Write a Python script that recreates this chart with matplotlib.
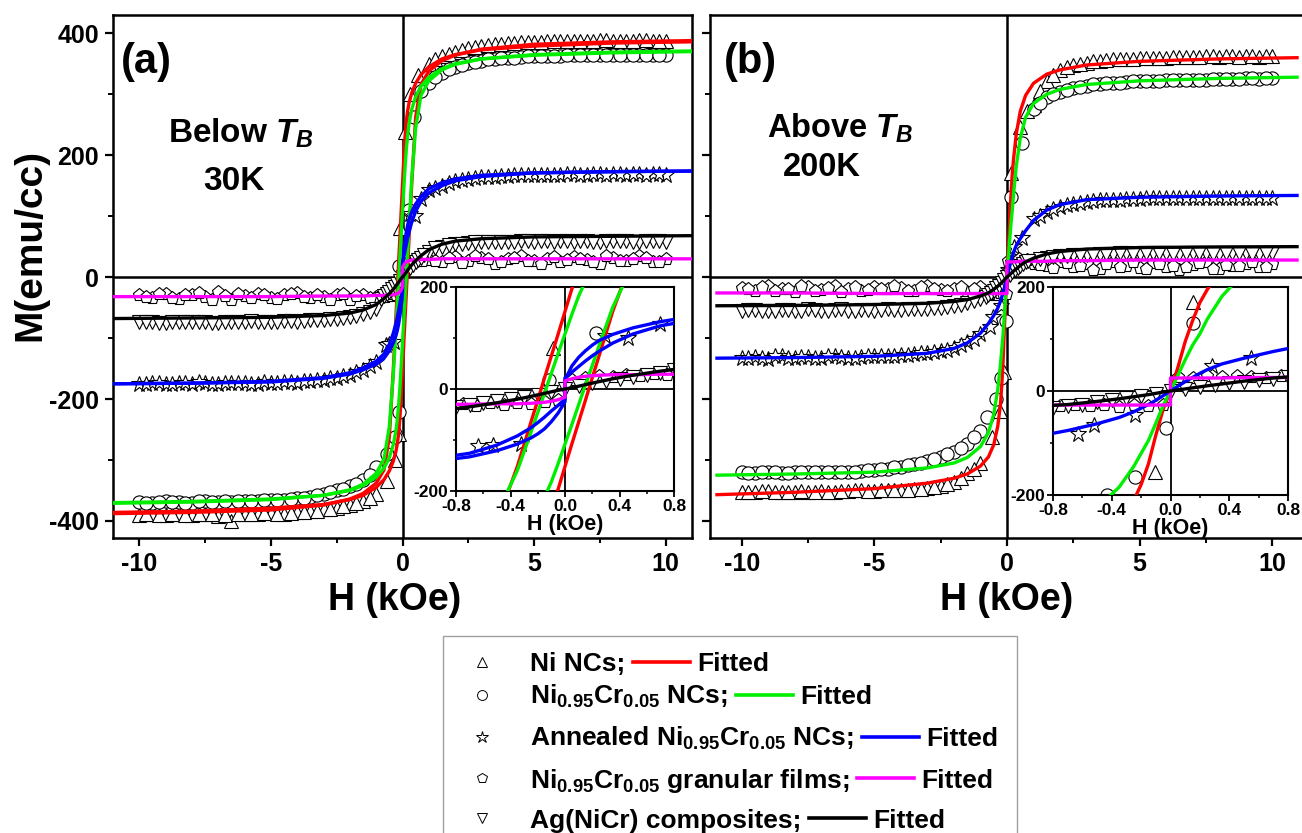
import matplotlib
matplotlib.use("Agg")
import matplotlib.pyplot as plt
from matplotlib.lines import Line2D
from matplotlib.patches import Rectangle
from matplotlib.ticker import MultipleLocator, FormatStrFormatter

plt.rcParams["font.family"] = "Liberation Sans"
plt.rcParams["font.weight"] = "bold"
plt.rcParams["axes.labelweight"] = "bold"
plt.rcParams["axes.unicode_minus"] = False
plt.rcParams["mathtext.fontset"] = "custom"
plt.rcParams["mathtext.rm"] = "Liberation Sans:bold"
plt.rcParams["mathtext.it"] = "Liberation Sans:italic:bold"
plt.rcParams["mathtext.bf"] = "Liberation Sans:bold"

RED, GREEN, BLUE, MAGENTA, BLACK = "#FF0000", "#00EE00", "#0000FF", "#FF00FF", "#000000"

# ── measured points ───────────────────────────────────────────────────────────
# descending sweep outside +-1 kOe
H_OUT = [-10, -9.5, -9, -8.5, -8, -7.5, -7, -6.5, -6, -5.5, -5, -4.5, -4, -3.5, -3, -2.5, -2, -1.5, -1,
         1, 1.5, 2, 2.5, 3, 3.5, 4, 4.5, 5, 5.5, 6, 6.5, 7, 7.5, 8, 8.5, 9, 9.5, 10]
# return sweep outside +-1 kOe
H_RET = [-9.75, -9.25, -8.75, -8.25, -7.75, -7.25, -6.75, -6.25, -5.75, -5.25, -4.75, -4.25, -3.75,
         -3.25, -2.75, -2.25, -1.75, -1.25, 1.25, 1.75, 2.25, 2.75, 3.25, 3.75, 4.25, 4.75, 5.25,
         5.75, 6.25, 6.75, 7.25, 7.75, 8.25, 8.75, 9.25, 9.75]
# low-field points
H_FINE = [-0.8, -0.7, -0.6, -0.5, -0.4, -0.3, -0.2, -0.1, 0, 0.1, 0.2, 0.3, 0.4, 0.5, 0.6, 0.7, 0.8]
H_FINE_P = [-0.75, -0.65, -0.55, -0.45, -0.35, -0.25, -0.15, -0.05, 0.05, 0.15, 0.25, 0.35, 0.45, 0.55, 0.65, 0.75]

# panel (a), 30 K
A_TRI = [-390, -389, -391, -388, -390, -389, -392, -400, -389, -388, -387, -388, -386, -384, -381, -378, -374, -368, -355,
         350, 362, 370, 376, 379, 382, 384, 385, 386, 387, 388, 388, 387, 389, 388, 387, 389, 388, 388]
A_CIR = [-369, -370, -368, -369, -370, -368, -369, -369, -368, -367, -366, -365, -363, -360, -356, -350, -343, -333, -312,
         318, 335, 345, 351, 355, 358, 360, 361, 362, 363, 363, 364, 364, 365, 364, 365, 365, 364, 365]
A_STAR = [-176, -174, -175, -173, -175, -174, -176, -173, -174, -175, -173, -172, -173, -171, -168, -165, -160, -152, -140,
          143, 150, 157, 161, 164, 165, 166, 167, 167, 168, 168, 169, 168, 169, 169, 168, 169, 169, 168]
A_PENT = [-30, -34, -27, -36, -29, -33, -25, -38, -31, -28, -35, -30, -26, -34, -32, -29, -37, -30, -33,
          28, 24, 33, 27, 31, 22, 29, 35, 26, 30, 24, 33, 28, 21, 31, 27, 34, 25, 29]
A_DTRI = [-74, -73, -75, -74, -73, -74, -75, -73, -74, -73, -74, -72, -73, -71, -70, -68, -65, -61, -53,
          42, 50, 54, 56, 57, 58, 58, 59, 58, 59, 59, 58, 59, 58, 59, 59, 58, 59, 58]
A_TRI_R = [-389, -390, -388, -391, -389, -388, -390, -389, -388, -387, -389, -387, -385, -383, -380, -376, -371, -362,
           357, 366, 373, 377, 381, 383, 384, 386, 386, 387, 388, 387, 388, 389, 388, 388, 389, 388]
A_CIR_R = [-370, -369, -369, -370, -368, -369, -368, -368, -367, -366, -366, -364, -362, -358, -353, -347, -339, -324,
           328, 341, 348, 353, 357, 359, 360, 362, 362, 363, 364, 364, 364, 365, 365, 364, 365, 365]
A_STAR_R = [-175, -173, -176, -174, -172, -175, -174, -173, -175, -172, -174, -172, -171, -169, -166, -162, -156, -146,
            147, 154, 159, 163, 165, 166, 167, 167, 168, 168, 169, 168, 169, 168, 169, 169, 168, 169]
A_PENT_R = [-32, -27, -35, -30, -26, -37, -31, -28, -34, -29, -36, -27, -33, -30, -38, -28, -31, -35,
            26, 31, 23, 34, 29, 25, 32, 27, 22, 33, 28, 30, 25, 35, 26, 29, 32, 24]
A_DTRI_R = [-73, -75, -74, -73, -74, -75, -73, -74, -72, -74, -73, -72, -72, -70, -69, -67, -63, -57,
            47, 52, 55, 57, 58, 58, 58, 59, 59, 58, 59, 59, 58, 59, 59, 58, 59, 59]
A_TRI_IN_H = [-0.6, -0.3, -0.15, -0.09, 0.1, 0.3, 0.6]
A_TRI_IN_M = [-335, -300, -258, 80, 238, 300, 332]
A_CIR_IN_H = [-0.57, -0.3, -0.15, -0.12, 0.23, 0.45, 0.7]
A_CIR_IN_M = [-290, -262, -222, 18, 110, 262, 305]
A_STAR_IN_H = [-0.64, -0.53, -0.32, 0.29, 0.46, 0.7]
A_STAR_IN_M = [-112, -110, -107, 103, 100, 128]
A_PENT_IN_M = [-30, -33, -28, -31, -27, -29, -25, -22, 17, 21, 25, 24, 28, 26, 29, 27]
A_DTRI_IN_M = [-36, -31, -28, -24, -20, -16, -11, -6, 0, 6, 11, 15, 20, 24, 28, 32, 37]

# panel (b), 200 K
B_TRI = [-352, -353, -351, -352, -353, -352, -351, -352, -351, -350, -351, -350, -349, -348, -346, -342, -336, -322, -305,
         283, 322, 340, 348, 352, 355, 357, 358, 359, 360, 360, 361, 361, 362, 361, 362, 362, 361, 362]
B_CIR = [-320, -321, -320, -321, -320, -320, -319, -320, -319, -318, -316, -314, -311, -307, -302, -295, -287, -273, -252,
         275, 295, 304, 310, 314, 317, 318, 320, 321, 322, 323, 323, 324, 324, 325, 325, 326, 325, 326]
B_STAR = [-133, -131, -134, -130, -132, -131, -133, -130, -132, -131, -130, -129, -128, -126, -124, -121, -116, -107, -93,
          95, 107, 115, 120, 124, 126, 127, 128, 128, 129, 129, 130, 129, 130, 130, 129, 130, 130, 129]
B_PENT = [-18, -22, -15, -20, -24, -17, -21, -14, -19, -23, -16, -20, -18, -22, -15, -21, -19, -24, -17,
          22, 18, 25, 16, 21, 13, 24, 19, 15, 23, 17, 12, 20, 24, 14, 19, 22, 16, 21]
B_DTRI = [-55, -54, -56, -54, -55, -53, -55, -54, -56, -54, -55, -53, -54, -53, -52, -50, -47, -43, -36,
          26, 31, 34, 36, 37, 38, 38, 39, 38, 39, 39, 38, 39, 39, 38, 39, 39, 38, 39]
B_TRI_R = [-352, -351, -353, -352, -351, -352, -353, -351, -350, -351, -350, -349, -349, -347, -344, -339, -330, -314,
           305, 332, 344, 350, 354, 356, 358, 358, 359, 360, 361, 361, 361, 362, 362, 361, 362, 362]
B_CIR_R = [-321, -320, -320, -321, -319, -320, -320, -319, -319, -317, -315, -312, -309, -305, -299, -291, -280, -263,
           286, 300, 307, 312, 316, 318, 319, 321, 321, 322, 323, 324, 324, 325, 325, 325, 326, 326]
B_STAR_R = [-132, -133, -130, -132, -131, -133, -130, -131, -132, -130, -130, -129, -127, -125, -123, -119, -112, -101,
            101, 111, 118, 122, 125, 127, 127, 128, 129, 129, 129, 130, 130, 129, 130, 130, 129, 130]
B_PENT_R = [-20, -16, -23, -19, -14, -22, -18, -25, -16, -21, -19, -14, -23, -17, -20, -22, -16, -19,
            20, 15, 23, 18, 12, 22, 17, 25, 14, 21, 19, 16, 23, 13, 20, 18, 24, 17]
B_DTRI_R = [-54, -55, -55, -54, -56, -54, -55, -53, -55, -54, -54, -54, -53, -52, -51, -49, -45, -40,
            29, 33, 35, 37, 37, 38, 39, 38, 39, 39, 38, 39, 39, 38, 39, 39, 38, 39]
B_TRI_IN_H = [-0.55, -0.25, -0.107, 0.155, 0.5, 0.75]
B_TRI_IN_M = [-262, -220, -155, 171, 246, 272]
B_CIR_IN_H = [-0.75, -0.43, -0.24, -0.034, 0.155, 0.57]
B_CIR_IN_M = [-229, -200, -165, -72, 131, 220]
B_STAR_IN_H = [-0.63, -0.52, -0.24, 0.05, 0.28, 0.55]
B_STAR_IN_M = [-82, -66, -47, 12, 49, 64]
B_PENT_IN_M = [-28, -26, -29, -27, -30, -26, -28, -27, 27, 25, 28, 26, 29, 27, 25, 28]
B_DTRI_IN_M = [-33, -29, -26, -22, -18, -14, -10, -5, 0, 4, 8, 11, 15, 18, 21, 24, 27]

# ── fitted curves ─────────────────────────────────────────────────────────────
FIT_H = [-11, -8, -5, -3, -2, -1.5, -1, -0.7, -0.5, -0.35, -0.25, -0.2, -0.15, -0.1, -0.05, 0,
         0.05, 0.1, 0.15, 0.2, 0.25, 0.35, 0.5, 0.7, 1, 1.5, 2, 3, 5, 8, 11]
FIT_HJ = [-11, -8, -5, -3, -2, -1.5, -1, -0.7, -0.5, -0.35, -0.25, -0.2, -0.15, -0.1, -0.05, 0, 0,
          0.05, 0.1, 0.15, 0.2, 0.25, 0.35, 0.5, 0.7, 1, 1.5, 2, 3, 5, 8, 11]

A_RED_DESC = [-388, -386, -382, -374, -364, -355, -338, -316, -262, -152, -65, -22, 22, 65, 108, 152,
              196, 232, 258, 274, 286, 302, 318, 332, 345, 358, 365, 373, 379, 384, 386]
A_RED_ASC = [-386, -384, -379, -373, -365, -358, -345, -332, -318, -302, -286, -274, -258, -232, -196, -152,
             -108, -65, -22, 22, 65, 152, 262, 316, 338, 355, 364, 374, 382, 386, 388]
A_GRN_DESC = [-371, -369, -365, -358, -349, -340, -322, -298, -245, -160, -85, -46, -8, 31, 70, 108,
              146, 182, 212, 235, 252, 275, 296, 313, 328, 342, 350, 358, 364, 368, 370]
A_GRN_ASC = [-370, -368, -364, -358, -350, -342, -328, -313, -296, -275, -252, -235, -212, -182, -146, -108,
             -70, -31, 8, 46, 85, 160, 245, 298, 322, 340, 349, 358, 365, 369, 371]
A_BLU_1 = [-175, -174, -172, -166, -159, -152, -143, -133, -121, -108, -96, -88, -78, -64, -47, -25, 18,
           45, 62, 75, 86, 95, 107, 120, 132, 145, 155, 161, 167, 171, 173, 174]
A_BLU_2 = [-175, -174, -171, -165, -157, -149, -138, -126, -110, -92, -76, -66, -55, -43, -32, -20, 22,
           33, 44, 55, 65, 74, 90, 108, 124, 138, 150, 158, 165, 171, 173, 174]
A_MAG = [-32, -32, -32, -31, -31, -31, -30, -30, -29, -29, -28, -27, -26, -24, -21, -16, 16,
         20, 23, 25, 26, 27, 28, 28, 29, 29, 30, 30, 30, 30, 30, 30]
A_BLK = [-68, -67, -66, -63, -59, -54, -45, -35, -27, -20, -14.5, -11.5, -8.5, -5.5, -2.5, 0,
         2.5, 5.5, 8.5, 11.5, 14.5, 20, 27, 35, 45, 54, 59, 63, 66, 67, 68]

B_RED = [-357, -353, -347, -338, -330, -323, -310, -295, -275, -245, -210, -180, -140, -85, -35, 0,
         45, 95, 135, 170, 195, 235, 272, 298, 318, 333, 340, 348, 354, 358, 360]
B_GRN = [-325, -323, -320, -313, -305, -296, -278, -255, -225, -185, -145, -120, -95, -62, -28, 0,
         30, 60, 88, 110, 138, 182, 228, 262, 285, 300, 308, 316, 322, 326, 328]
B_BLU = [-133, -132, -130, -125, -117, -108, -92, -76, -63, -51, -40, -33, -26, -18, -9, 0,
         9, 18, 26, 34, 41, 52, 63, 76, 93, 110, 119, 127, 131, 133, 134]
B_BLK = [-47, -46.5, -45, -43, -40, -37, -31, -26, -20, -15, -11, -9, -7, -4.5, -2, 0,
         2, 4, 6, 8, 10, 13.5, 19, 25, 31, 38, 42, 46, 48.5, 49.5, 50]
B_MAG = [-26, -26, -27, -27, -27, -27, -27, -27, -27, -27, -27, -27, -27, -27, -27, -27, 25,
         25, 25, 25, 25, 25, 25, 26, 26, 26, 26, 27, 27, 28, 28, 28]

LEG_LABELS = ["Ni NCs;", r"Ni$_{0.95}$Cr$_{0.05}$ NCs;", r"Annealed Ni$_{0.95}$Cr$_{0.05}$ NCs;",
              r"Ni$_{0.95}$Cr$_{0.05}$ granular films;", "Ag(NiCr) composites;"]
MARKERS = ["^", "o", "*", "p", "v"]
COLORS = [RED, GREEN, BLUE, MAGENTA, BLACK]
MS = {"^": 9.5, "o": 9.5, "*": 12, "p": 9.5, "v": 9.5}

A_POINTS = [(H_OUT + H_RET + A_TRI_IN_H, A_TRI + A_TRI_R + A_TRI_IN_M),
            (H_OUT + H_RET + A_CIR_IN_H, A_CIR + A_CIR_R + A_CIR_IN_M),
            (H_OUT + H_RET + A_STAR_IN_H, A_STAR + A_STAR_R + A_STAR_IN_M),
            (H_OUT + H_RET + H_FINE_P, A_PENT + A_PENT_R + A_PENT_IN_M),
            (H_OUT + H_RET + H_FINE, A_DTRI + A_DTRI_R + A_DTRI_IN_M)]
B_POINTS = [(H_OUT + H_RET + B_TRI_IN_H, B_TRI + B_TRI_R + B_TRI_IN_M),
            (H_OUT + H_RET + B_CIR_IN_H, B_CIR + B_CIR_R + B_CIR_IN_M),
            (H_OUT + H_RET + B_STAR_IN_H, B_STAR + B_STAR_R + B_STAR_IN_M),
            (H_OUT + H_RET + H_FINE_P, B_PENT + B_PENT_R + B_PENT_IN_M),
            (H_OUT + H_RET + H_FINE, B_DTRI + B_DTRI_R + B_DTRI_IN_M)]
A_FITS = [(FIT_H, A_RED_DESC, RED), (FIT_H, A_RED_ASC, RED),
          (FIT_H, A_GRN_DESC, GREEN), (FIT_H, A_GRN_ASC, GREEN),
          (FIT_HJ, A_BLU_1, BLUE), (FIT_HJ, A_BLU_2, BLUE),
          (FIT_HJ, A_MAG, MAGENTA), (FIT_H, A_BLK, BLACK)]
B_FITS = [(FIT_H, B_RED, RED), (FIT_H, B_GRN, GREEN), (FIT_H, B_BLU, BLUE),
          (FIT_HJ, B_MAG, MAGENTA), (FIT_H, B_BLK, BLACK)]

W, H = 1302, 833


def fx(x):
    return x / W


def fy(y):
    return 1 - y / H


def axes_px(fig, left, top, right, bottom):
    return fig.add_axes([fx(left), fy(bottom), (right - left) / W, (bottom - top) / H])


def draw_data(ax, points, fits):
    for (hh, mm), mk in zip(points, MARKERS):
        ax.plot(hh, mm, ls="none", marker=mk, ms=MS[mk], mfc="white", mec="black", mew=0.8, zorder=2)
    for hh, mm, c in fits:
        ax.plot(hh, mm, color=c, lw=2.4, zorder=3, solid_capstyle="butt")


def style_main(ax, xlim, show_y):
    ax.set_xlim(*xlim)
    ax.set_ylim(-428, 430)
    ax.axhline(0, color="k", lw=1.8, zorder=1)
    ax.axvline(0, color="k", lw=1.8, zorder=1)
    ax.xaxis.set_major_locator(MultipleLocator(5))
    ax.xaxis.set_minor_locator(MultipleLocator(2.5))
    ax.yaxis.set_major_locator(MultipleLocator(200))
    ax.yaxis.set_minor_locator(MultipleLocator(100))
    ax.tick_params(which="major", direction="out", length=6, width=1.6, labelsize=18, pad=4,
                   labelleft=show_y)
    ax.tick_params(which="minor", direction="out", length=3.5, width=1.4)
    for s in ax.spines.values():
        s.set_linewidth(1.8)


def style_inset(ax):
    ax.set_xlim(-0.8, 0.8)
    ax.set_ylim(-200, 200)
    ax.set_facecolor("white")
    ax.axhline(0, color="k", lw=1.3, zorder=1)
    ax.axvline(0, color="k", lw=1.3, zorder=1)
    ax.xaxis.set_major_locator(MultipleLocator(0.4))
    ax.xaxis.set_minor_locator(MultipleLocator(0.2))
    ax.yaxis.set_major_locator(MultipleLocator(200))
    ax.yaxis.set_minor_locator(MultipleLocator(100))
    ax.xaxis.set_major_formatter(FormatStrFormatter("%.1f"))
    ax.tick_params(which="major", direction="out", length=4, width=1.3, labelsize=12.5, pad=1.5)
    ax.tick_params(which="minor", direction="out", length=2.5, width=1.1)
    ax.set_xlabel("H (kOe)", fontsize=15.5, fontweight="bold", labelpad=0)
    for s in ax.spines.values():
        s.set_linewidth(1.5)


fig = plt.figure(figsize=(W / 100, H / 100), dpi=100)
fig.patch.set_facecolor("white")

ax_a = axes_px(fig, 113, 15, 692, 538)
draw_data(ax_a, A_POINTS, A_FITS)
style_main(ax_a, (-11, 11), True)

ax_b = axes_px(fig, 710, 15, 1304, 538)
draw_data(ax_b, B_POINTS, B_FITS)
style_main(ax_b, (-11.2, 11.2), False)

in_a = axes_px(fig, 456, 287, 674, 491)
draw_data(in_a, A_POINTS, A_FITS)
style_inset(in_a)

in_b = axes_px(fig, 1053, 287, 1288, 495)
draw_data(in_b, B_POINTS, B_FITS)
style_inset(in_b)

# ── annotations ───────────────────────────────────────────────────────────────
fig.text(fx(121), fy(62), "(a)", fontsize=30, ha="left", va="center")
fig.text(fx(241), fy(133), r"Below $T_B$", fontsize=24, ha="center", va="center")
fig.text(fx(234), fy(181), "30K", fontsize=24, ha="center", va="center")
fig.text(fx(724), fy(62), "(b)", fontsize=30, ha="left", va="center")
fig.text(fx(840), fy(128), r"Above $T_B$", fontsize=23.5, ha="center", va="center")
fig.text(fx(822), fy(168), "200K", fontsize=23.5, ha="center", va="center")

fig.text(fx(30), fy(245), "M(emu/cc)", fontsize=28, rotation=90, ha="center", va="center")
fig.text(fx(395), fy(600), "H (kOe)", fontsize=27, ha="center", va="center")
fig.text(fx(1007), fy(600), "H (kOe)", fontsize=27, ha="center", va="center")

# ── hand-built legend ─────────────────────────────────────────────────────────
fig.add_artist(Rectangle((fx(443), fy(850)), (1017 - 443) / W, (850 - 636) / H,
                         transform=fig.transFigure, fill=False, ec="#A0A0A0", lw=1.0))
row_base = [671, 704, 746, 788, 828]
row_line = [662, 695, 737, 778, 818]
renderer = fig.canvas.get_renderer()
for lab, mk, col, yb, yl in zip(LEG_LABELS, MARKERS, COLORS, row_base, row_line):
    fig.add_artist(Line2D([fx(482)], [fy(yl)], ls="none", marker=mk, ms=MS[mk] * 0.75,
                          mfc="white", mec="black", mew=0.7, transform=fig.transFigure))
    t = fig.text(fx(530), fy(yb), lab, fontsize=19, ha="left", va="baseline")
    bb = t.get_window_extent(renderer=renderer)
    x0 = bb.x1 + 8
    fig.add_artist(Line2D([x0 / W, (x0 + 57) / W], [fy(yl), fy(yl)], color=col, lw=2.6,
                          transform=fig.transFigure))
    fig.text((x0 + 64) / W, fy(yb), "Fitted", fontsize=19, ha="left", va="baseline")

fig.savefig("out.png", dpi=100, facecolor="white")
